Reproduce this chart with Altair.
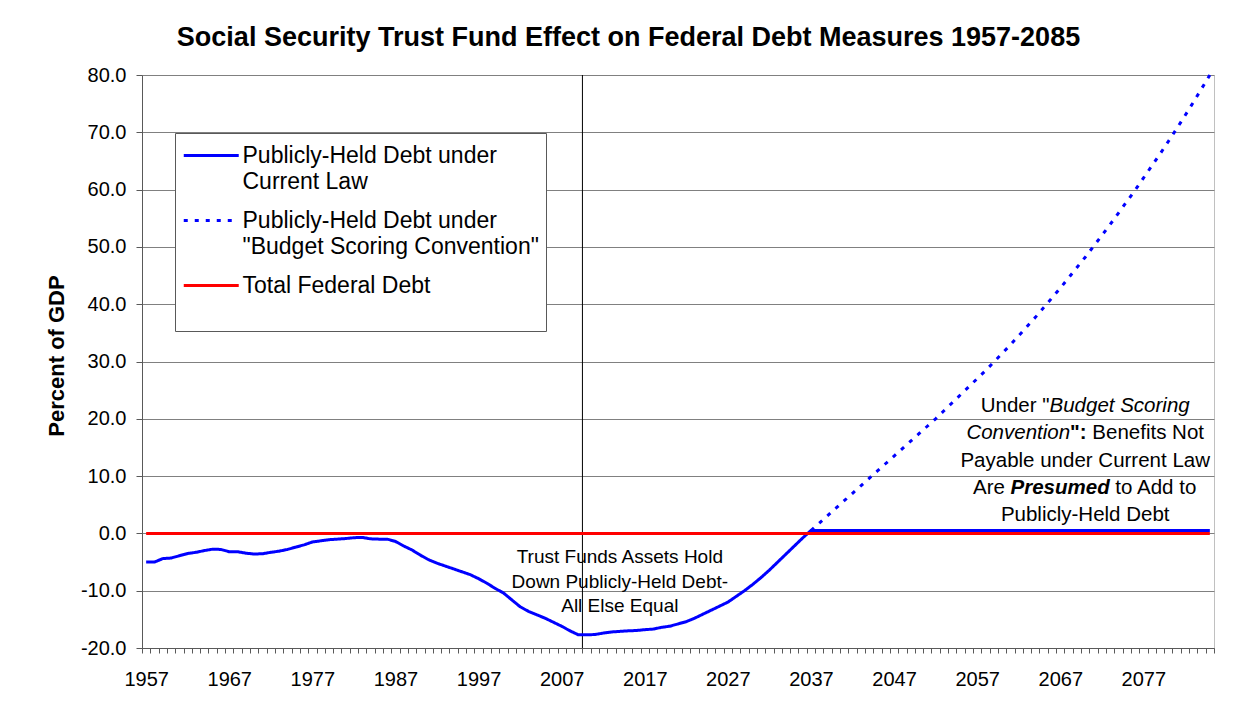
import altair as alt
import pandas as pd

# ---------------- data ----------------
years = list(range(1957, 2086))

current_law = [
    -5.0, -5.0, -4.4, -4.3, -3.9, -3.5, -3.3, -3.0, -2.75, -2.8,          # 1957-1966
    -3.2, -3.2, -3.45, -3.6, -3.55, -3.3, -3.1, -2.8, -2.4, -2.0,         # 1967-1976
    -1.5, -1.3, -1.1, -1.0, -0.9, -0.75, -0.7, -0.95, -1.0, -1.0,         # 1977-1986
    -1.4, -2.2, -2.9, -3.8, -4.6, -5.2, -5.7, -6.2, -6.7, -7.2,           # 1987-1996
    -7.9, -8.7, -9.6, -10.4, -11.6, -12.8, -13.6, -14.2, -14.8, -15.5,    # 1997-2006
    -16.2, -17.0, -17.7, -17.7, -17.65, -17.4, -17.2, -17.1, -17.0, -16.95,  # 2007-2016
    -16.8, -16.7, -16.4, -16.2, -15.8, -15.4, -14.8, -14.1, -13.4, -12.7, # 2017-2026
    -12.0, -11.0, -10.0, -8.9, -7.7, -6.4, -5.0, -3.6, -2.2, -0.8,        # 2027-2036
    0.5, 0.5, 0.5, 0.5, 0.5, 0.5, 0.5, 0.5, 0.5, 0.5,                     # 2037-2046
    0.5, 0.5, 0.5, 0.5, 0.5, 0.5, 0.5, 0.5, 0.5, 0.5,                     # 2047-2056
    0.5, 0.5, 0.5, 0.5, 0.5, 0.5, 0.5, 0.5, 0.5, 0.5,                     # 2057-2066
    0.5, 0.5, 0.5, 0.5, 0.5, 0.5, 0.5, 0.5, 0.5, 0.5,                     # 2067-2076
    0.5, 0.5, 0.5, 0.5, 0.5, 0.5, 0.5, 0.5, 0.5,                          # 2077-2085
]

budget_years = list(range(2037, 2086))
budget_convention = [
    0.5, 1.8, 3.1, 4.4, 5.7, 7.0, 8.3, 9.6, 10.9, 12.2,            # 2037-2046
    13.5, 14.8, 16.1, 17.4, 18.7, 20.0, 21.4, 22.8, 24.2, 25.6,    # 2047-2056
    27.0, 28.4, 29.9, 31.4, 32.9, 34.5, 36.1, 37.7, 39.4, 41.1,    # 2057-2066
    42.8, 44.6, 46.4, 48.2, 50.1, 52.0, 53.9, 55.9, 57.9, 59.9,    # 2067-2076
    62.0, 64.1, 66.2, 68.4, 70.6, 72.9, 75.2, 77.6, 80.0,          # 2077-2085
]

total_federal = [
    0.0, 0.0, 0.0, 0.0, 0.0, 0.0, 0.0, 0.0, 0.0, 0.0,
    0.0, 0.0, 0.0, 0.0, 0.0, 0.0, 0.0, 0.0, 0.0, 0.0,
    0.0, 0.0, 0.0, 0.0, 0.0, 0.0, 0.0, 0.0, 0.0, 0.0,
    0.0, 0.0, 0.0, 0.0, 0.0, 0.0, 0.0, 0.0, 0.0, 0.0,
    0.0, 0.0, 0.0, 0.0, 0.0, 0.0, 0.0, 0.0, 0.0, 0.0,
    0.0, 0.0, 0.0, 0.0, 0.0, 0.0, 0.0, 0.0, 0.0, 0.0,
    0.0, 0.0, 0.0, 0.0, 0.0, 0.0, 0.0, 0.0, 0.0, 0.0,
    0.0, 0.0, 0.0, 0.0, 0.0, 0.0, 0.0, 0.0, 0.0, 0.0,
    0.0, 0.0, 0.0, 0.0, 0.0, 0.0, 0.0, 0.0, 0.0, 0.0,
    0.0, 0.0, 0.0, 0.0, 0.0, 0.0, 0.0, 0.0, 0.0, 0.0,
    0.0, 0.0, 0.0, 0.0, 0.0, 0.0, 0.0, 0.0, 0.0, 0.0,
    0.0, 0.0, 0.0, 0.0, 0.0, 0.0, 0.0, 0.0, 0.0, 0.0,
    0.0, 0.0, 0.0, 0.0, 0.0, 0.0, 0.0, 0.0, 0.0,
]

S1 = "Publicly-Held Debt under|Current Law"
S2 = 'Publicly-Held Debt under|"Budget Scoring Convention"'
S3 = "Total Federal Debt| "
series_names = [S1, S2, S3]
series_colors = ["#0000FF", "#0000FF", "#FF0000"]

x_label_years = [1957, 1967, 1977, 1987, 1997, 2007, 2017, 2027, 2037, 2047, 2057, 2067, 2077]
y_ticks = [-20, -10, 0, 10, 20, 30, 40, 50, 60, 70, 80]

VLINE_YEAR = 2009.5  # boundary between 2009 and 2010

title_text = "Social Security Trust Fund Effect on Federal Debt Measures 1957-2085"
left_note = ["Trust Funds Assets Hold", "Down Publicly-Held Debt-", "All Else Equal"]
left_note_y = [-4.1, -8.4, -12.7]
LEFT_NOTE_X = 2014

RIGHT_NOTE_X = 2070
right_note = [
    (22.3, [('Under "', "normal", "normal"), ("Budget Scoring", "italic", "normal")]),
    (17.5, [("Convention", "italic", "normal"), ('":', "normal", "bold"), (" Benefits Not", "normal", "normal")]),
    (12.55, [("Payable under Current Law", "normal", "normal")]),
    (8.0, [("Are ", "normal", "normal"), ("Presumed", "italic", "bold"), (" to Add to", "normal", "normal")]),
    (3.25, [("Publicly-Held Debt", "normal", "normal")]),
]

# ---------------- table ----------------
rows = []
for yr, v in zip(years, current_law):
    rows.append({"year": yr, "value": v, "series": S1})
for yr, v in zip(budget_years, budget_convention):
    rows.append({"year": yr, "value": v, "series": S2})
for yr, v in zip(years, total_federal):
    rows.append({"year": yr, "value": v, "series": S3})
df = pd.DataFrame(rows)

FONT = "Liberation Sans"

# ---------------- scales / axes / legend ----------------
x_scale = alt.Scale(domain=[1956.5, 2085.5], nice=False, zero=False)
y_scale = alt.Scale(domain=[-20, 80], nice=False, zero=False)

x_tick_values = [y - 0.5 for y in years] + [years[-1] + 0.5]
label_set = ",".join(str(v - 0.5) for v in x_label_years)
x_axis = alt.Axis(
    title=None,
    values=x_tick_values,
    labelExpr="indexof([" + label_set + "], datum.value) >= 0 ? '' + (datum.value + 0.5) : ''",
    labelOffset=4.155,
    labelOverlap=False,
    labelFlush=False,
    labelBound=False,
    labelFontSize=20,
    labelFont=FONT,
    labelColor="black",
    labelPadding=16,
    tickSize=5,
    tickColor="#595959",
    domainColor="#595959",
    grid=False,
)

y_axis = alt.Axis(
    title="Percent of GDP",
    titleFont=FONT,
    titleFontSize=22,
    titleFontWeight="bold",
    titleColor="black",
    titleX=-79,
    titleY=280.5,
    titleAngle=270,
    titleAlign="center",
    titleBaseline="alphabetic",
    values=y_ticks,
    labelExpr="(datum.value < 0 ? '-' : '') + format(abs(datum.value), '.1f')",
    labelFontSize=20,
    labelFont=FONT,
    labelColor="black",
    labelPadding=10,
    tickSize=6,
    tickColor="#595959",
    domainColor="#595959",
    grid=True,
    gridColor="#808080",
)

legend = alt.Legend(
    title=None,
    orient="none",
    legendX=33,
    legendY=58,
    fillColor="white",
    strokeColor="#595959",
    padding=7,
    rowPadding=11,
    labelOffset=29.5,
    labelFont=FONT,
    labelFontSize=23,
    labelColor="black",
    labelLimit=600,
    labelBaseline="middle",
    labelExpr="split(datum.label, '|')",
    symbolType="M -1 0 L 3 0",
    symbolSize=756,
    symbolStrokeWidth=3,
)

color_scale = alt.Scale(domain=series_names, range=series_colors)
dash_scale = alt.Scale(domain=series_names, range=[[1, 0], [4, 7], [1, 0]])

base = alt.Chart(df)


def line_layer(name):
    return base.transform_filter(
        alt.FieldEqualPredicate(field="series", equal=name)
    ).mark_line(strokeWidth=3, strokeCap="butt").encode(
        x=alt.X("year:Q", scale=x_scale, axis=x_axis),
        y=alt.Y("value:Q", scale=y_scale, axis=y_axis),
        color=alt.Color("series:N", scale=color_scale, legend=legend),
        strokeDash=alt.StrokeDash("series:N", scale=dash_scale, legend=legend),
    )


vline = alt.Chart(pd.DataFrame({"year": [VLINE_YEAR]})).mark_rule(
    color="black", strokeWidth=1
).encode(x=alt.X("year:Q", scale=x_scale, axis=x_axis))

anno_df = pd.DataFrame({"n": [0]})
layers = [vline, line_layer(S1), line_layer(S2), line_layer(S3)]

# left note (centered lines)
for txt, yv in zip(left_note, left_note_y):
    layers.append(
        alt.Chart(anno_df).mark_text(
            text=txt, font=FONT, fontSize=19, color="black", align="center", baseline="middle"
        ).encode(
            x=alt.X(datum=LEFT_NOTE_X, scale=x_scale, axis=x_axis),
            y=alt.Y(datum=yv, scale=y_scale, axis=y_axis),
        )
    )

# right note with mixed styles
ANNO_FS = 20.5
REG = {' ': 278, '"': 355, ':': 278, '-': 333, 'A': 667, 'B': 667, 'C': 722, 'D': 722,
       'H': 722, 'L': 556, 'N': 722, 'P': 667, 'S': 667, 'U': 722, 'a': 556, 'b': 556,
       'c': 500, 'd': 556, 'e': 556, 'f': 278, 'g': 556, 'i': 222, 'l': 222, 'm': 833,
       'n': 556, 'o': 556, 'r': 333, 's': 500, 't': 278, 'u': 556, 'v': 500, 'w': 722, 'y': 500}
BLD = {' ': 278, '"': 474, ':': 333, 'P': 667, 'r': 389, 'e': 556, 's': 556, 'u': 611,
       'm': 889, 'd': 611}


def seg_width(s, bold):
    tab = BLD if bold else REG
    return sum(tab.get(ch, REG.get(ch, 556)) for ch in s) / 1000.0 * ANNO_FS


for yv, segs in right_note:
    total = sum(seg_width(t, w == "bold") for t, st, w in segs)
    cur = -total / 2.0
    for t, st, w in segs:
        lead = len(t) - len(t.lstrip(" "))
        dx = cur + lead * 0.278 * ANNO_FS
        layers.append(
            alt.Chart(anno_df).mark_text(
                text=t.strip(), font=FONT, fontSize=ANNO_FS, fontStyle=st, fontWeight=w,
                color="black", align="left", baseline="middle", dx=dx,
            ).encode(
                x=alt.X(datum=RIGHT_NOTE_X, scale=x_scale, axis=x_axis),
                y=alt.Y(datum=yv, scale=y_scale, axis=y_axis),
            )
        )
        cur += seg_width(t, w == "bold")

chart = alt.layer(*layers).properties(
    width=1072,
    height=573,
    autosize=alt.AutoSizeParams(type="none"),
    padding={"left": 134, "top": 67, "right": 15, "bottom": 50},
    background="white",
    title=alt.TitleParams(
        text=title_text,
        font=FONT,
        fontSize=27,
        fontWeight="bold",
        color="black",
        anchor="middle",
        dx=-49.5,
        offset=-8,
        baseline="alphabetic",
    ),
).configure(
    font=FONT,
    style={"guide-label": {"lineHeight": 26.5}},
).configure_view(stroke="#c0c0c0", strokeWidth=1)

chart.save("out.html", embed_options={"renderer": "svg", "actions": False})
